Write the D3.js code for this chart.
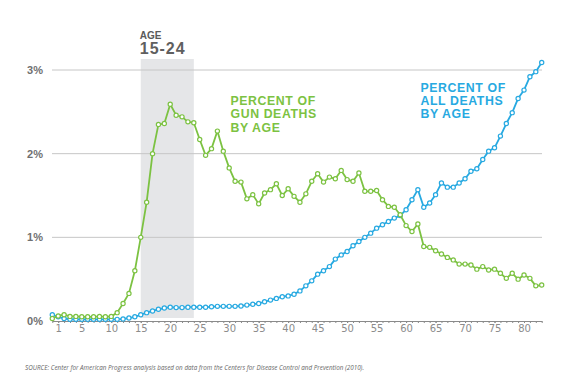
<!DOCTYPE html>
<html><head><meta charset="utf-8">
<script src="https://cdn.jsdelivr.net/npm/d3@7"></script>
<style>body{margin:0;background:#fff;} svg{display:block;}</style>
</head><body>
<div id="chart"></div>
<script>
// ages 0..83
const ages = d3.range(0, 84);
const gunDeaths = [0.03,0.06,0.075,0.055,0.055,0.05,0.05,0.05,0.055,0.05,
  0.055,0.10,0.21,0.33,0.60,1.00,1.42,2.00,2.35,2.36,
  2.59,2.46,2.44,2.38,2.37,2.17,1.98,2.06,2.27,2.03,
  1.83,1.67,1.66,1.46,1.51,1.40,1.53,1.57,1.64,1.50,
  1.58,1.49,1.42,1.52,1.67,1.76,1.66,1.72,1.70,1.80,
  1.69,1.67,1.77,1.55,1.55,1.56,1.45,1.37,1.36,1.27,
  1.14,1.07,1.16,0.89,0.88,0.84,0.80,0.76,0.73,0.68,
  0.68,0.67,0.62,0.65,0.61,0.62,0.57,0.51,0.57,0.50,
  0.55,0.51,0.42,0.43];
const allDeaths = [0.075,0.05,0.03,0.02,0.02,0.02,0.02,0.02,0.02,0.02,
  0.02,0.02,0.025,0.035,0.05,0.075,0.10,0.12,0.14,0.155,
  0.165,0.16,0.16,0.165,0.165,0.165,0.165,0.17,0.175,0.175,
  0.175,0.175,0.18,0.19,0.20,0.21,0.23,0.25,0.27,0.29,
  0.30,0.32,0.36,0.42,0.48,0.56,0.60,0.65,0.74,0.79,
  0.83,0.90,0.95,1.00,1.05,1.11,1.15,1.19,1.23,1.26,
  1.33,1.45,1.57,1.36,1.41,1.51,1.65,1.60,1.60,1.65,
  1.70,1.79,1.82,1.93,2.03,2.07,2.21,2.36,2.49,2.66,
  2.76,2.92,2.98,3.09];
const xTickLabels = [1,5,10,15,20,25,30,35,40,45,50,55,60,65,70,75,80];
const yTicks = [0,1,2,3];
const band = [15, 24];

const W = 570, H = 379;
const GREEN = "#7cc242", BLUE = "#27a9e1";
const svg = d3.select("#chart").append("svg").attr("width", W).attr("height", H);

const x = d3.scaleLinear().domain([0, 83]).range([52.3, 541.7]);
const y = d3.scaleLinear().domain([0, 3]).range([321, 70]);

// band
svg.append("rect").attr("x", x(band[0])).attr("width", x(band[1]) - x(band[0]))
  .attr("y", 59).attr("height", 318 - 59).attr("fill", "#e5e6e8");
svg.append("text").attr("x", x(band[0]) - 1).attr("y", 39).text("AGE")
  .attr("font-family", "Liberation Sans, Arial, sans-serif").attr("font-weight", "bold")
  .attr("font-size", 10).attr("fill", "#5a5a5a");
svg.append("text").attr("x", x(band[0]) - 1).attr("y", 54).text(band[0] + "-" + band[1])
  .attr("font-family", "Liberation Sans, Arial, sans-serif").attr("font-weight", "bold")
  .attr("font-size", 16).attr("letter-spacing", 1).attr("fill", "#5f5f5f");

// gridlines
svg.append("g").selectAll("line").data(yTicks.filter(d => d > 0)).join("line")
  .attr("x1", 52).attr("x2", 542).attr("y1", d => y(d)).attr("y2", d => y(d))
  .attr("stroke", "#c6c6c6").attr("stroke-width", 1);

// y labels
svg.append("g").selectAll("text").data(yTicks).join("text")
  .attr("x", 43).attr("y", d => y(d) + 4).attr("text-anchor", "end")
  .text(d => d + "%")
  .attr("font-family", "Liberation Sans, Arial, sans-serif").attr("font-weight", "bold")
  .attr("font-size", 11).attr("fill", "#707070");

// x axis minor ticks
const gx = svg.append("g").attr("transform", `translate(0,${y(0)})`)
  .call(d3.axisBottom(x).tickValues(d3.range(0, 84)).tickSize(2).tickFormat("").tickSizeOuter(0));
gx.select(".domain").attr("stroke", "#8a8a8a");
gx.selectAll(".tick line").attr("stroke", "#8a8a8a");
const gx2 = svg.append("g").attr("transform", `translate(0,${y(0)})`)
  .call(d3.axisBottom(x).tickValues(xTickLabels).tickSize(2).tickPadding(2).tickSizeOuter(0));
gx2.select(".domain").remove();
gx2.selectAll(".tick line").attr("stroke", "#8a8a8a");
gx2.selectAll(".tick text").attr("font-family", "DejaVu Sans, sans-serif")
  .attr("font-size", 10).attr("fill", "#8c8c8c");

function series(vals, color) {
  const data = vals.map((v, i) => [ages[i], v]);
  svg.append("path").datum(data)
    .attr("d", d3.line().x(d => x(d[0])).y(d => y(d[1])))
    .attr("fill", "none").attr("stroke", color).attr("stroke-width", 1.8)
    .attr("stroke-linejoin", "round");
  svg.append("g").selectAll("circle").data(data).join("circle")
    .attr("cx", d => x(d[0])).attr("cy", d => y(d[1])).attr("r", 2.1)
    .attr("fill", "#fff").attr("stroke", color).attr("stroke-width", 1.2);
}
series(allDeaths, BLUE);
series(gunDeaths, GREEN);

function label(lines, x0, y0, color) {
  const t = svg.append("text").attr("font-family", "Liberation Sans, Arial, sans-serif")
    .attr("font-weight", "bold").attr("font-size", 12.3).attr("letter-spacing", 0.6).attr("fill", color);
  lines.forEach((l, i) => t.append("tspan").attr("x", x0).attr("y", y0 + i * 13.3).text(l));
}
label(["PERCENT OF", "GUN DEATHS", "BY AGE"], 230.5, 105, GREEN);
label(["PERCENT OF", "ALL DEATHS", "BY AGE"], 420.5, 91.7, BLUE);

svg.append("text").attr("x", 25).attr("y", 370)
  .text("SOURCE: Center for American Progress analysis based on data from the Centers for Disease Control and Prevention (2010).")
  .attr("font-family", "Open Sans, sans-serif").attr("font-style", "italic")
  .attr("font-size", 7.5).attr("fill", "#666")
  .attr("textLength", 339).attr("lengthAdjust", "spacingAndGlyphs");
</script>
</body></html>
